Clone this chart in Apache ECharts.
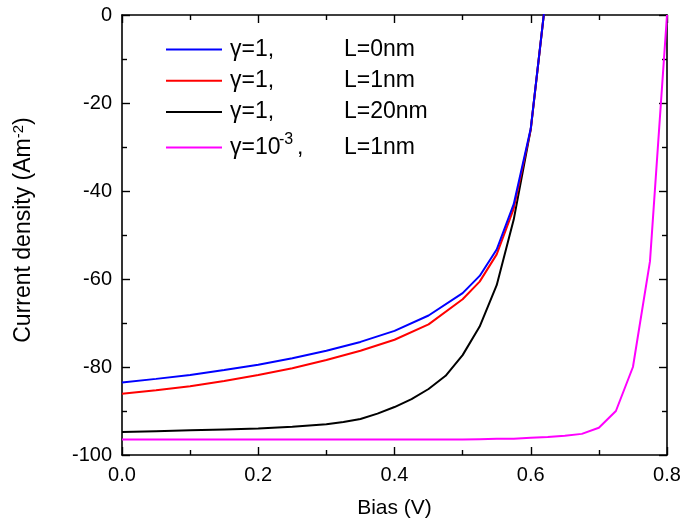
<!DOCTYPE html>
<html>
<head>
<meta charset="utf-8">
<script src="https://cdn.jsdelivr.net/npm/echarts@6/dist/echarts.min.js"></script>
<style>html,body{margin:0;padding:0;background:#fff}#c{width:686px;height:532px}</style>
</head>
<body>
<div id="c"></div>
<script>
var xTicks = [0.0, 0.2, 0.4, 0.6, 0.8];
var yTicks = [0, -20, -40, -60, -80, -100];

var seriesNames = ['γ=1, L=0nm', 'γ=1, L=1nm', 'γ=1, L=20nm', 'γ=10-3, L=1nm'];

var biasBlue = [0, 0.05, 0.1, 0.15, 0.2, 0.25, 0.3, 0.35, 0.4, 0.45, 0.5, 0.525, 0.55, 0.575, 0.6, 0.625];
var jBlue    = [-83.5, -82.7, -81.8, -80.7, -79.5, -78.0, -76.3, -74.3, -71.8, -68.3, -63.2, -59.3, -53.3, -43.0, -25.8, 8];

var biasRed = [0, 0.05, 0.1, 0.15, 0.2, 0.25, 0.3, 0.35, 0.4, 0.45, 0.5, 0.525, 0.55, 0.575, 0.6, 0.625];
var jRed    = [-86.1, -85.3, -84.4, -83.2, -81.8, -80.3, -78.4, -76.3, -73.8, -70.3, -64.6, -60.6, -54.4, -44.0, -26.0, 8];

var biasBlack = [0, 0.05, 0.1, 0.15, 0.2, 0.25, 0.3, 0.325, 0.35, 0.375, 0.4, 0.425, 0.45, 0.475, 0.5, 0.525, 0.55, 0.575, 0.6, 0.625];
var jBlack    = [-94.8, -94.6, -94.4, -94.2, -94.0, -93.6, -93.0, -92.5, -91.8, -90.6, -89.1, -87.3, -85.0, -82.0, -77.3, -70.8, -61.4, -46.5, -26.0, 8];

var biasMagenta = [0, 0.1, 0.2, 0.3, 0.4, 0.5, 0.525, 0.55, 0.575, 0.6, 0.625, 0.65, 0.675, 0.7, 0.725, 0.75, 0.775, 0.8];
var jMagenta    = [-96.5, -96.5, -96.5, -96.5, -96.5, -96.5, -96.4, -96.3, -96.3, -96.1, -95.9, -95.6, -95.2, -93.8, -90.0, -80.0, -56.0, 0];

var colors = ['#0000ff', '#ff0000', '#000000', '#ff00ff'];

function pairs(xs, ys) { return xs.map(function (x, i) { return [x, ys[i]]; }); }

var FONT = '"Liberation Sans", Arial, sans-serif';
var chart = echarts.init(document.getElementById('c'), null, {renderer: 'canvas'});

var axisLine = {show: true, onZero: false, lineStyle: {color: '#000', width: 1.6}};
var tickIn = {show: true, inside: true, length: 8, lineStyle: {color: '#000', width: 1.4}};
var minorIn = {show: true, splitNumber: 2, length: 5, lineStyle: {color: '#000', width: 1.4}};

var data = [pairs(biasBlue, jBlue), pairs(biasRed, jRed), pairs(biasBlack, jBlack), pairs(biasMagenta, jMagenta)];

var LF = 23;
var legendRich = {
  a: {fontSize: LF, fontFamily: FONT, color: '#000', width: 114, lineHeight: 24, padding: [0, 0, 0, 3]},
  b: {fontSize: LF, fontFamily: FONT, color: '#000', lineHeight: 24},
  g: {fontSize: LF, fontFamily: FONT, color: '#000', width: 49, lineHeight: 31, padding: [0, 0, 0, 3]},
  sup: {fontSize: 16, fontFamily: FONT, color: '#000', width: 18, lineHeight: 8, verticalAlign: 'top'},
  c: {fontSize: LF, fontFamily: FONT, color: '#000', width: 47, lineHeight: 31},
  b4: {fontSize: LF, fontFamily: FONT, color: '#000', lineHeight: 31}
};

chart.setOption({
  backgroundColor: '#fff',
  animation: false,
  grid: {left: 122, right: 19, top: 15, bottom: 77},
  legend: {
    left: 166, top: 38, orient: 'vertical', itemGap: 8.3, padding: 0,
    itemWidth: 56, itemHeight: 2, icon: 'rect', selectedMode: false,
    data: seriesNames,
    textStyle: {fontSize: LF, fontFamily: FONT, color: '#000', rich: legendRich},
    formatter: function (name) {
      var i = seriesNames.indexOf(name);
      if (i === 0) return '{a|γ=1,}{b|L=0nm}';
      if (i === 1) return '{a|γ=1,}{b|L=1nm}';
      if (i === 2) return '{a|γ=1,}{b|L=20nm}';
      return '{g|γ=10}{sup|-3}{c|,}{b4|L=1nm}';
    }
  },
  xAxis: [{
    type: 'value', min: 0, max: 0.8, interval: 0.2, position: 'bottom',
    name: 'Bias (V)', nameLocation: 'middle', nameGap: 43,
    nameTextStyle: {fontSize: 21, fontFamily: FONT, color: '#000'},
    axisLine: axisLine, axisTick: tickIn, minorTick: minorIn,
    axisLabel: {fontSize: 20, fontFamily: FONT, color: '#000', margin: 10,
      formatter: function (v) { return v.toFixed(1); }},
    splitLine: {show: false}
  }, {
    type: 'value', min: 0, max: 0.8, interval: 0.2, position: 'top',
    axisLine: axisLine, axisTick: tickIn, minorTick: minorIn,
    axisLabel: {show: false}, splitLine: {show: false}
  }],
  yAxis: [{
    type: 'value', min: -100, max: 0, interval: 20, position: 'left',
    name: 'Current density (Am{sup|-2})', nameLocation: 'middle', nameGap: 86, nameRotate: 90,
    nameTextStyle: {fontSize: 23, fontFamily: FONT, color: '#000', padding: [0, 0, 0, 10],
      rich: {sup: {fontSize: 15, fontFamily: FONT, color: '#000', verticalAlign: 'bottom', padding: [0, 0, 10, 0]}}},
    axisLine: axisLine, axisTick: tickIn, minorTick: minorIn,
    axisLabel: {fontSize: 20, fontFamily: FONT, color: '#000', margin: 10},
    splitLine: {show: false}
  }, {
    type: 'value', min: -100, max: 0, interval: 20, position: 'right',
    axisLine: axisLine, axisTick: tickIn, minorTick: minorIn,
    axisLabel: {show: false}, splitLine: {show: false}
  }],
  series: seriesNames.map(function (n, i) {
    return {
      name: n, type: 'line', data: data[i], showSymbol: false, symbol: 'none',
      clip: true, smooth: false, z: 10 - i,
      lineStyle: {color: colors[i], width: 2},
      itemStyle: {color: colors[i]}
    };
  })
});
</script>
</body>
</html>
